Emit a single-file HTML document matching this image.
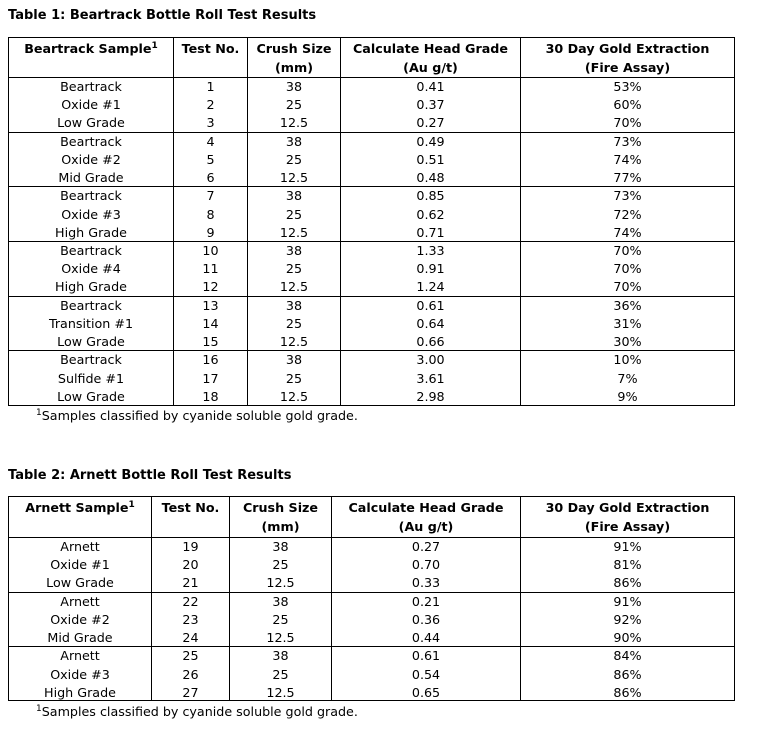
<!DOCTYPE html>
<html><head><meta charset="utf-8"><style>
body{margin:0;width:769px;height:738px;background:#fff;font-family:"DejaVu Sans","Liberation Sans",sans-serif;color:#000;position:relative;overflow:hidden}
.t{position:absolute;left:8px;font-weight:bold;font-size:13px}
.tb{position:absolute;left:8px;width:727px;border:1px solid #000;box-sizing:border-box}
.row{display:flex;border-top:1px solid #000;box-sizing:border-box}
.row:first-child{border-top:none}
.c{border-left:1px solid #000;text-align:center;font-size:12.7px;box-sizing:border-box;white-space:nowrap}
.c:first-child{border-left:none}
.h .c{font-weight:bold;line-height:19px;padding-top:1px}
.g .c{line-height:18.2px}
.fn{position:absolute;left:36px;font-size:12.7px}
sup{font-size:9px;line-height:0}
</style></head><body>
<div class="t" style="top:8px">Table 1: Beartrack Bottle Roll Test Results</div>
<div class="tb" style="top:37px;height:369px">
<div class="row h" style="height:39px"><div class="c" style="width:164px">Beartrack Sample<sup>1</sup></div><div class="c" style="width:74px">Test No.</div><div class="c" style="width:93px">Crush Size<br>(mm)</div><div class="c" style="width:180px">Calculate Head Grade<br>(Au g/t)</div><div class="c" style="flex:1">30 Day Gold Extraction<br>(Fire Assay)</div></div>
<div class="row g" style="height:54.7px"><div class="c" style="width:164px">Beartrack<br>Oxide #1<br>Low Grade</div><div class="c" style="width:74px">1<br>2<br>3</div><div class="c" style="width:93px">38<br>25<br>12.5</div><div class="c" style="width:180px">0.41<br>0.37<br>0.27</div><div class="c" style="flex:1">53%<br>60%<br>70%</div></div>
<div class="row g" style="height:54.7px"><div class="c" style="width:164px">Beartrack<br>Oxide #2<br>Mid Grade</div><div class="c" style="width:74px">4<br>5<br>6</div><div class="c" style="width:93px">38<br>25<br>12.5</div><div class="c" style="width:180px">0.49<br>0.51<br>0.48</div><div class="c" style="flex:1">73%<br>74%<br>77%</div></div>
<div class="row g" style="height:54.7px"><div class="c" style="width:164px">Beartrack<br>Oxide #3<br>High Grade</div><div class="c" style="width:74px">7<br>8<br>9</div><div class="c" style="width:93px">38<br>25<br>12.5</div><div class="c" style="width:180px">0.85<br>0.62<br>0.71</div><div class="c" style="flex:1">73%<br>72%<br>74%</div></div>
<div class="row g" style="height:54.7px"><div class="c" style="width:164px">Beartrack<br>Oxide #4<br>High Grade</div><div class="c" style="width:74px">10<br>11<br>12</div><div class="c" style="width:93px">38<br>25<br>12.5</div><div class="c" style="width:180px">1.33<br>0.91<br>1.24</div><div class="c" style="flex:1">70%<br>70%<br>70%</div></div>
<div class="row g" style="height:54.7px"><div class="c" style="width:164px">Beartrack<br>Transition #1<br>Low Grade</div><div class="c" style="width:74px">13<br>14<br>15</div><div class="c" style="width:93px">38<br>25<br>12.5</div><div class="c" style="width:180px">0.61<br>0.64<br>0.66</div><div class="c" style="flex:1">36%<br>31%<br>30%</div></div>
<div class="row g" style="height:54.7px"><div class="c" style="width:164px">Beartrack<br>Sulfide #1<br>Low Grade</div><div class="c" style="width:74px">16<br>17<br>18</div><div class="c" style="width:93px">38<br>25<br>12.5</div><div class="c" style="width:180px">3.00<br>3.61<br>2.98</div><div class="c" style="flex:1">10%<br>7%<br>9%</div></div>
</div>
<div class="fn" style="top:408px"><sup>1</sup>Samples classified by cyanide soluble gold grade.</div>

<div class="t" style="top:468px">Table 2: Arnett Bottle Roll Test Results</div>
<div class="tb" style="top:496px;height:205px">
<div class="row h" style="height:40px"><div class="c" style="width:142px">Arnett Sample<sup>1</sup></div><div class="c" style="width:78px">Test No.</div><div class="c" style="width:102px">Crush Size<br>(mm)</div><div class="c" style="width:189px">Calculate Head Grade<br>(Au g/t)</div><div class="c" style="flex:1">30 Day Gold Extraction<br>(Fire Assay)</div></div>
<div class="row g" style="height:54.7px"><div class="c" style="width:142px">Arnett<br>Oxide #1<br>Low Grade</div><div class="c" style="width:78px">19<br>20<br>21</div><div class="c" style="width:102px">38<br>25<br>12.5</div><div class="c" style="width:189px">0.27<br>0.70<br>0.33</div><div class="c" style="flex:1">91%<br>81%<br>86%</div></div>
<div class="row g" style="height:54.7px"><div class="c" style="width:142px">Arnett<br>Oxide #2<br>Mid Grade</div><div class="c" style="width:78px">22<br>23<br>24</div><div class="c" style="width:102px">38<br>25<br>12.5</div><div class="c" style="width:189px">0.21<br>0.36<br>0.44</div><div class="c" style="flex:1">91%<br>92%<br>90%</div></div>
<div class="row g" style="height:54.7px"><div class="c" style="width:142px">Arnett<br>Oxide #3<br>High Grade</div><div class="c" style="width:78px">25<br>26<br>27</div><div class="c" style="width:102px">38<br>25<br>12.5</div><div class="c" style="width:189px">0.61<br>0.54<br>0.65</div><div class="c" style="flex:1">84%<br>86%<br>86%</div></div>
</div>
<div class="fn" style="top:704px"><sup>1</sup>Samples classified by cyanide soluble gold grade.</div>
</body></html>
